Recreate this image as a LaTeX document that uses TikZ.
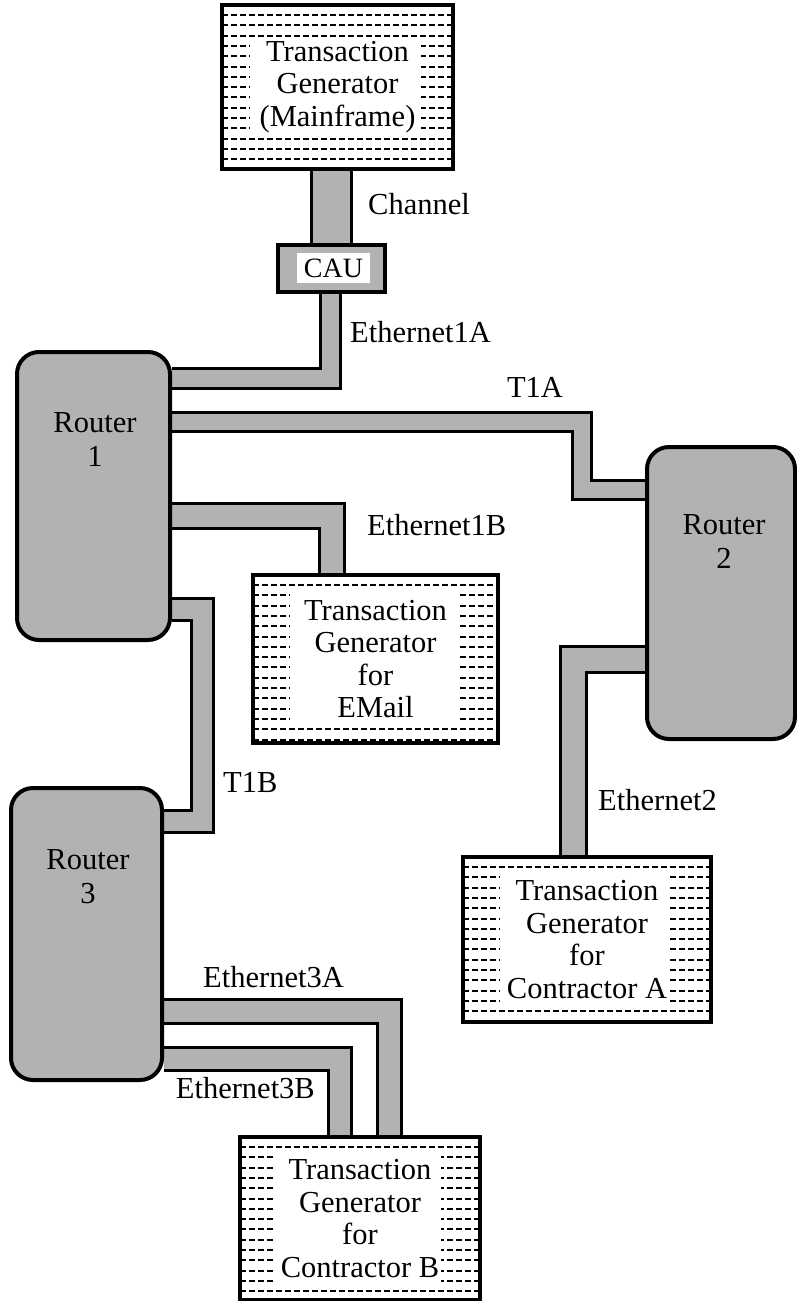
\documentclass[tikz,border=0pt]{standalone}
\usepackage{fontspec}
\setmainfont{Liberation Serif}
\pgfdeclarelayer{bg}
\pgfsetlayers{bg,main}
\definecolor{shade}{gray}{0.70}
\tikzset{
  router/.style={draw, line width=4pt, fill=shade, rounded corners=22pt, inner sep=0pt},
  tgbox/.style={draw, line width=4.5pt, inner sep=0pt, align=center, font=\fontsize{30.5}{32.5}\selectfont},
  conn/.style={line width=3pt, double=shade, double distance=#1},
  lbl/.style={font=\fontsize{30.5}{34}\selectfont, inner sep=0pt},
  tgdash/.style={line width=2pt, dash pattern=on 6pt off 3pt},
}
\newcommand{\tgpattern}[8]{%
  \begin{scope}
    \clip (#1,#2) rectangle (#3,#4);
    \foreach \k in {0,...,16} {
      \draw[tgdash] (#1,{#2+10+10.3*\k}) -- (#3,{#2+10+10.3*\k});
    }
    \fill[white] (#1+#5,#2+#6) rectangle (#3-#7,#4-#8);
  \end{scope}
}
\begin{document}
\begin{tikzpicture}[x=1pt,y=-1pt]
\useasboundingbox (0,0) rectangle (797,1301);
\begin{pgfonlayer}{bg}
  \fill[white] (0,0) rectangle (797,1301);
\end{pgfonlayer}

% transaction generator boxes
\tgpattern{222}{5}{453}{169}{28}{33}{32}{32}
\node[tgbox, minimum width=231pt, minimum height=164pt] (mf) at (337.5,87) {Transaction\\Generator\\(Mainframe)};

\tgpattern{253}{575}{498}{743}{37}{15}{38}{16}
\node[tgbox, minimum width=245pt, minimum height=168pt] (em) at (375.5,659) {Transaction\\Generator\\for\\EMail};

\tgpattern{463}{857}{711}{1022}{37}{15}{43}{14}
\node[tgbox, minimum width=248pt, minimum height=165pt] (ca) at (587,939.5) {Transaction\\Generator\\for\\Contractor A};

\tgpattern{240}{1137}{480}{1300}{35}{16}{39}{15}
\node[tgbox, minimum width=240pt, minimum height=163pt] (cb) at (360,1218.5) {Transaction\\Generator\\for\\Contractor B};

% routers
\node[router, minimum width=153pt, minimum height=288pt] (r1) at (93.5,496) {};
\node[router, minimum width=148pt, minimum height=292pt] (r2) at (721,593) {};
\node[router, minimum width=151pt, minimum height=292pt] (r3) at (86.5,934) {};
\node[lbl, align=center] (r1t) at (95,440) {Router\\1};
\node[lbl, align=center] (r2t) at (724,542) {Router\\2};
\node[lbl, align=center] (r3t) at (88,877) {Router\\3};

% CAU
\node[draw, line width=4pt, fill=shade, minimum width=107pt, minimum height=47pt, inner sep=0pt] (cau) at (331.5,268.5) {};
\node[fill=white, minimum width=73pt, minimum height=30pt, inner sep=0pt, font=\fontsize{28}{30}\selectfont] (caut) at (333.5,268) {CAU};

% connectors
\begin{pgfonlayer}{bg}
  \draw[conn=37pt] (cau.north |- mf.south) -- (cau.north);
  \draw[conn=17pt] (cau.south -| 330,0) -- (330,378.5) -- (r1.east |- 0,378.5);
  \draw[conn=16pt] (r1.east |- 0,421.5) -- (582,421.5) -- (582,490) -- (r2.west |- 0,490);
  \draw[conn=22pt] (r1.east |- 0,516) -| (em.north -| 331.5,0);
  \draw[conn=19pt] (r1.east |- 0,609.5) -- (202.5,609.5) -- (202.5,821.5) -- (r3.east |- 0,821.5);
  \draw[conn=23pt] (r2.west |- 0,659) -| (ca.north -| 573,0);
  \draw[conn=21pt] (r3.east |- 0,1011) -| (cb.north -| 389.5,0);
  \draw[conn=20pt] (r3.east |- 0,1058.5) -| (cb.north -| 340,0);
\end{pgfonlayer}

% labels
\node[lbl, anchor=base west] (lch) at (368,214) {Channel};
\node[lbl, anchor=base west] (le1a) at (350,342) {Ethernet1A};
\node[lbl, anchor=base] (lt1a) at (535,397) {T1A};
\node[lbl, anchor=base west] (le1b) at (367,535) {Ethernet1B};
\node[lbl, anchor=base west] (lt1b) at (223,792) {T1B};
\node[lbl, anchor=base west] (le2) at (598,810) {Ethernet2};
\node[lbl, anchor=base west] (le3a) at (203,987) {Ethernet3A};
\node[lbl, anchor=base east] (le3b) at (315,1098) {Ethernet3B};
\end{tikzpicture}
\end{document}
